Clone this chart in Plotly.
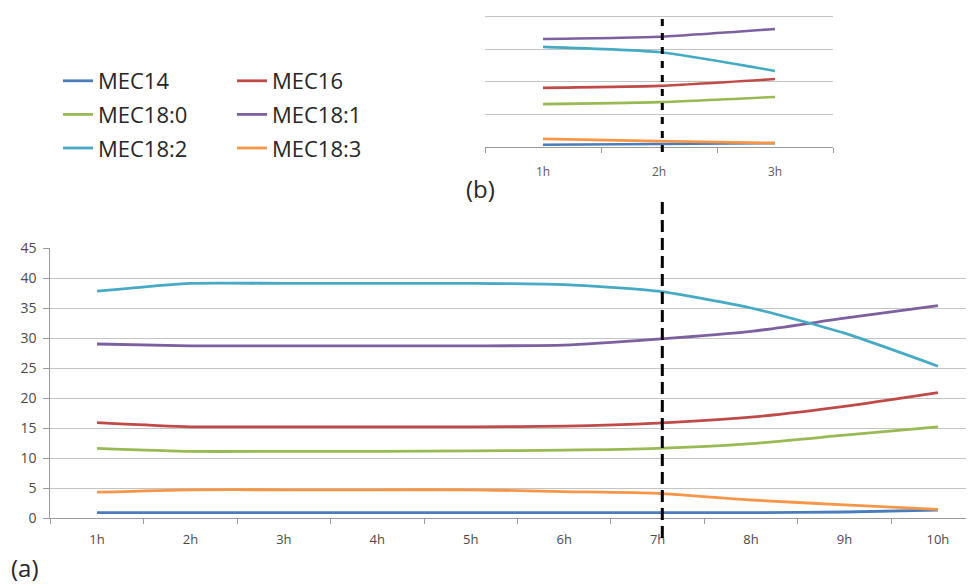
import plotly.graph_objects as go

# ---------------- data ----------------
hours_main = ["1h", "2h", "3h", "4h", "5h", "6h", "7h", "8h", "9h", "10h"]
hours_inset = ["1h", "2h", "3h"]

series_names = ["MEC14", "MEC16", "MEC18:0", "MEC18:1", "MEC18:2", "MEC18:3"]
series_colors = ["#4A7EBB", "#BE4B48", "#98B954", "#7D60A0", "#46AAC5", "#F79646"]

mec14_main   = [0.9, 0.9, 0.9, 0.9, 0.9, 0.9, 0.9, 0.9, 1.0, 1.3]
mec16_main   = [15.9, 15.2, 15.2, 15.2, 15.2, 15.3, 15.8, 16.8, 18.6, 20.9]
mec180_main  = [11.6, 11.1, 11.1, 11.1, 11.2, 11.3, 11.6, 12.4, 13.8, 15.2]
mec181_main  = [29.0, 28.7, 28.7, 28.7, 28.7, 28.8, 29.8, 31.1, 33.3, 35.4]
mec182_main  = [37.8, 39.1, 39.1, 39.1, 39.1, 38.9, 37.8, 35.0, 30.8, 25.3]
mec183_main  = [4.3, 4.7, 4.7, 4.7, 4.7, 4.4, 4.1, 3.0, 2.2, 1.45]

mec14_inset  = [0.7, 0.9, 1.2]
mec16_inset  = [18.2, 18.8, 20.9]
mec180_inset = [13.2, 13.8, 15.4]
mec181_inset = [33.2, 33.9, 36.3]
mec182_inset = [30.8, 29.2, 23.4]
mec183_inset = [2.5, 1.8, 1.2]

main_values = [mec14_main, mec16_main, mec180_main, mec181_main, mec182_main, mec183_main]
inset_values = [mec14_inset, mec16_inset, mec180_inset, mec181_inset, mec182_inset, mec183_inset]

y_main_ticks = [0, 5, 10, 15, 20, 25, 30, 35, 40, 45]
y_inset_ticks = [0, 10, 20, 30, 40]

# ---------------- figure ----------------
# page body has an 8px margin, so the figure is drawn at (8, 8) in the window
OFF = 8
W, H = 974 - OFF, 585 - OFF


def px(sx):
    """screen x (window pixels) -> paper fraction"""
    return (sx - OFF) / W


def py(sy):
    """screen y (window pixels, from top) -> paper fraction"""
    return (H - (sy - OFF)) / H


fig = go.Figure()

legend_ids = ["legend", "legend2", "legend", "legend2", "legend", "legend2"]

for i, name in enumerate(series_names):
    fig.add_trace(go.Scatter(
        x=hours_main, y=main_values[i], name=name, mode="lines",
        line=dict(color=series_colors[i], width=2.8, shape="spline", smoothing=0.6),
        xaxis="x", yaxis="y", legend=legend_ids[i], legendgroup=name,
        showlegend=True,
    ))

for i, name in enumerate(series_names):
    fig.add_trace(go.Scatter(
        x=hours_inset, y=inset_values[i], name=name, mode="lines",
        line=dict(color=series_colors[i], width=2.6, shape="spline", smoothing=0.5),
        xaxis="x2", yaxis="y2", legendgroup=name, showlegend=False,
    ))

grid_col = "#c4c4c4"
axis_col = "#9a9a9a"
fam = "Open Sans, Liberation Sans, sans-serif"

fig.update_layout(
    template="none",
    width=W, height=H,
    margin=dict(l=0, r=0, t=0, b=0, autoexpand=False),
    paper_bgcolor="white", plot_bgcolor="white",
    showlegend=True,
    xaxis=dict(
        domain=[px(50.3), 1.0], type="category",
        range=[-0.5, 9.386], tickson="boundaries",
        ticks="outside", ticklen=5, tickcolor=axis_col, tickwidth=1.2,
        showline=True, linecolor=axis_col, linewidth=1.2,
        showgrid=False, automargin=False, ticklabelstandoff=9,
        tickfont=dict(family=fam, size=13, color="#4a4a4a"),
        anchor="y", fixedrange=True,
    ),
    yaxis=dict(
        domain=[py(518), py(248)],
        range=[0, 45], tickvals=y_main_ticks,
        ticks="outside", ticklen=6, tickcolor=axis_col, tickwidth=1.2,
        showline=True, linecolor=axis_col, linewidth=1.2,
        showgrid=True, gridcolor=grid_col, gridwidth=1.2,
        zeroline=False, automargin=False, ticklabelstandoff=4,
        tickfont=dict(family=fam, size=14, color="#4a4a4a"),
        anchor="x",
    ),
    xaxis2=dict(
        domain=[px(485), px(833)], type="category",
        range=[-0.5, 2.5], tickson="boundaries",
        ticks="outside", ticklen=5, tickcolor=axis_col, tickwidth=1.2,
        showline=True, linecolor=axis_col, linewidth=1.2,
        showgrid=False, automargin=False, ticklabelstandoff=13, anchor="y2",
        tickfont=dict(family=fam, size=12, color="#5a5a5a"),
    ),
    yaxis2=dict(
        domain=[py(147), py(15)],
        range=[0, 40.6], tickvals=y_inset_ticks,
        showticklabels=False, ticks="",
        showline=False, showgrid=True, gridcolor=grid_col, gridwidth=1.2,
        zeroline=False, automargin=False, anchor="x2",
    ),
    legend=dict(
        x=px(58), xanchor="left", y=py(60), yanchor="top",
        orientation="v", bgcolor="rgba(0,0,0,0)", tracegroupgap=2,
        font=dict(family=fam, size=22, color="#262626"),
        itemclick=False,
    ),
    legend2=dict(
        x=px(232), xanchor="left", y=py(60), yanchor="top",
        orientation="v", bgcolor="rgba(0,0,0,0)", tracegroupgap=2,
        font=dict(family=fam, size=22, color="#262626"),
        itemclick=False,
    ),
)

# dashed marker line at 7h (main) continuing through the inset at 2h
fig.add_shape(type="line", xref="x", yref="paper", x0=6.05, x1=6.05,
              y0=py(538), y1=py(196),
              line=dict(color="black", width=3, dash="12px,6px"))
fig.add_shape(type="line", xref="x", yref="paper", x0=6.05, x1=6.05,
              y0=py(152), y1=py(15),
              line=dict(color="black", width=3, dash="7px,7px"))

# panel labels
label_font = dict(family=fam, size=24, color="#262626")
fig.add_annotation(text="(b)", xref="paper", yref="paper", x=px(480), y=py(188),
                   showarrow=False, font=label_font, xanchor="center", yanchor="middle")
fig.add_annotation(text="(a)", xref="paper", yref="paper", x=px(9), y=py(567),
                   showarrow=False, font=label_font, xanchor="left", yanchor="middle")

fig.write_html("out.html")
